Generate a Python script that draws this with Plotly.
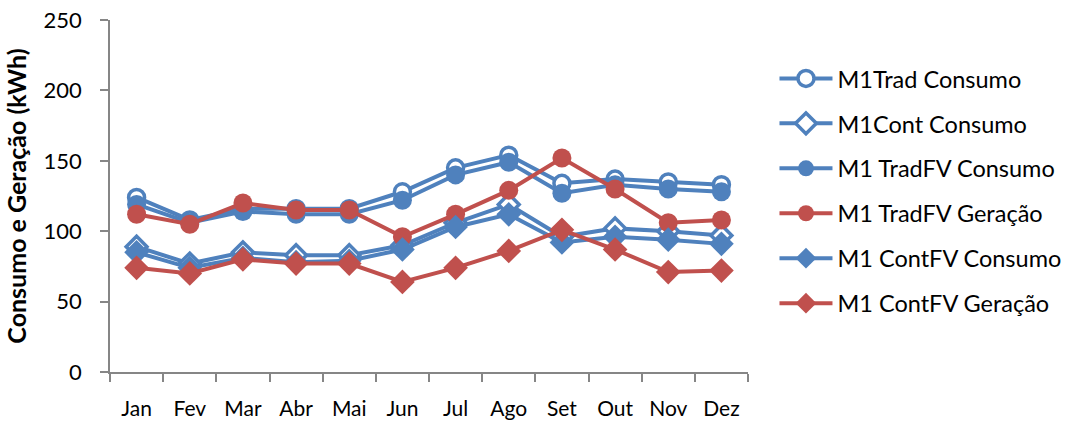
import plotly.graph_objects as go

months = ["Jan", "Fev", "Mar", "Abr", "Mai", "Jun", "Jul", "Ago", "Set", "Out", "Nov", "Dez"]

m1_trad_consumo = [124, 108, 116, 116, 116, 128, 145, 154, 134, 137, 135, 133]
m1_cont_consumo = [89, 77, 85, 83, 83, 90, 106, 119, 96, 102, 100, 97]
m1_tradfv_consumo = [119, 106, 114, 112, 112, 122, 140, 149, 127, 133, 130, 128]
m1_tradfv_geracao = [112, 105, 120, 115, 115, 96, 112, 129, 152, 130, 106, 108]
m1_contfv_consumo = [85, 74, 81, 78, 79, 87, 103, 112, 92, 96, 94, 91]
m1_contfv_geracao = [74, 70, 80, 77, 77, 64, 74, 86, 101, 87, 71, 72]

BLUE = "#4F81BD"
RED = "#C0504D"
FONT = "Lato, 'Open Sans', sans-serif"

# (name, values, colour, symbol, size, hollow)
series = [
    ("M1Trad Consumo", m1_trad_consumo, BLUE, "circle", 16, True),
    ("M1Cont Consumo", m1_cont_consumo, BLUE, "diamond", 16, True),
    ("M1 TradFV Consumo", m1_tradfv_consumo, BLUE, "circle", 19, False),
    ("M1 TradFV Geração", m1_tradfv_geracao, RED, "circle", 19, False),
    ("M1 ContFV Consumo", m1_contfv_consumo, BLUE, "diamond", 19, False),
    ("M1 ContFV Geração", m1_contfv_geracao, RED, "diamond", 19, False),
]

fig = go.Figure()
for i, (name, vals, color, symbol, size, hollow) in enumerate(series):
    fig.add_trace(go.Scatter(
        x=months, y=vals, name=name, mode="lines+markers",
        legendgroup=f"g{i}",
        line=dict(color=color, width=4),
        marker=dict(
            symbol=symbol, size=size,
            color="white" if hollow else color,
            line=dict(color=color, width=3.5 if hollow else 0),
        ),
    ))

fig.update_layout(
    width=1075, height=421,
    margin=dict(l=110, r=327, t=20, b=49, autoexpand=False),
    paper_bgcolor="white", plot_bgcolor="white",
    font=dict(family=FONT, size=21, color="#000000"),
    showlegend=True,
    legend=dict(
        x=1.0415, y=0.896, xanchor="left", yanchor="top",
        font=dict(family=FONT, size=23.5, color="#000000"),
        tracegroupgap=11.4, traceorder="grouped", itemwidth=53,
        bgcolor="rgba(0,0,0,0)",
    ),
    xaxis=dict(
        type="category", range=[-0.5, 11.5], automargin=False,
        showline=True, linecolor="#868686", linewidth=1.5,
        ticks="outside", tickson="boundaries", ticklen=8,
        tickcolor="#868686", tickwidth=1.5,
        showgrid=False, zeroline=False,
        ticklabelstandoff=17,
        tickfont=dict(family=FONT, size=21),
    ),
    yaxis=dict(
        range=[0, 250], tickvals=[0, 50, 100, 150, 200, 250], automargin=False,
        showline=True, linecolor="#868686", linewidth=1.5,
        ticks="outside", ticklen=8, tickcolor="#868686", tickwidth=1.5,
        showgrid=False, zeroline=False,
        ticklabelstandoff=14,
        tickfont=dict(family=FONT, size=22),
        title=dict(text="<b>Consumo e Geração (kWh)</b>",
                   font=dict(family=FONT, size=25), standoff=10),
    ),
)

fig.write_html("out.html")
